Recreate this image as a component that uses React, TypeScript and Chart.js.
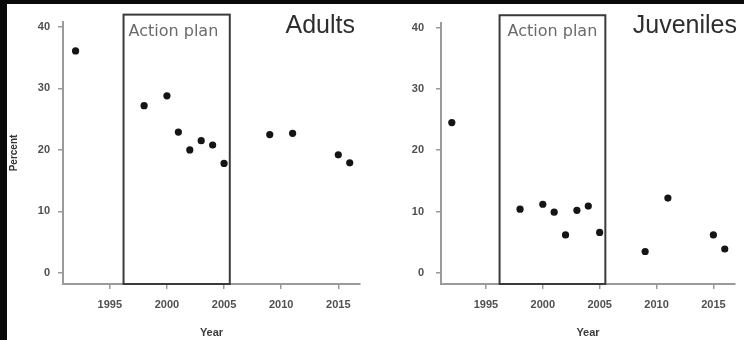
import React, { useEffect, useRef } from "react";
import { Chart, registerables } from "chart.js";

Chart.register(...registerables);

// ---- data ----
const years = [1992, 1998, 2000, 2001, 2002, 2003, 2004, 2005, 2009, 2011, 2015, 2016];
const adultPercent = [36.1, 27.2, 28.8, 22.9, 20.0, 21.5, 20.8, 17.8, 22.5, 22.7, 19.2, 17.9];
const juvenilePercent = [24.5, 10.4, 11.2, 9.9, 6.2, 10.2, 10.9, 6.6, 3.5, 12.2, 6.2, 3.9];
const yearTicks = [1995, 2000, 2005, 2010, 2015];
const percentTicks = [0, 10, 20, 30, 40];
const actionPlanYears = [1996.2, 2005.5];
const actionPlanTop = 42;
const actionPlanLabel = "Action plan";
const panelTitles = ["Adults", "Juveniles"];

type PanelCfg = {
  title: string;
  values: number[];
  left: number;
  width: number;
  yAxisWidth: number;
  padRight: number;
  xMin: number;
  xMax: number;
  yTitle: string;
  yTickPad: number;
  titleOffset: number;
  labelOffset: number;
};

const panels: PanelCfg[] = [
  {
    title: panelTitles[0],
    values: adultPercent,
    left: 7,
    width: 365,
    yAxisWidth: 56,
    padRight: 12,
    xMin: 1990.9,
    xMax: 2016.9,
    yTitle: "Percent",
    yTickPad: 8,
    titleOffset: 5,
    labelOffset: 5,
  },
  {
    title: panelTitles[1],
    values: juvenilePercent,
    left: 372,
    width: 372,
    yAxisWidth: 69,
    padRight: 9,
    xMin: 1991.05,
    xMax: 2016.9,
    yTitle: "",
    yTickPad: 12,
    titleOffset: -2,
    labelOffset: 8,
  },
];

const CANVAS_H = 336;

const decorPlugin = {
  id: "decor",
  afterDatasetsDraw(chart: any, _args: any, opts: any) {
    const { ctx, chartArea, scales } = chart;
    const x0 = scales.x.getPixelForValue(actionPlanYears[0]);
    const x1 = scales.x.getPixelForValue(actionPlanYears[1]);
    const yTop = scales.y.getPixelForValue(actionPlanTop);
    const yBot = chartArea.bottom;
    ctx.save();
    ctx.strokeStyle = "#3a3a3a";
    ctx.lineWidth = 2;
    ctx.strokeRect(x0, yTop, x1 - x0, yBot - yTop);
    ctx.fillStyle = "#6a6a6a";
    ctx.font = '16px "DejaVu Sans"';
    ctx.textBaseline = "middle";
    ctx.textAlign = "left";
    ctx.fillText(actionPlanLabel, x0 + opts.labelOffset, yTop + 17);
    ctx.fillStyle = "#2e2e2e";
    ctx.font = "25px Arial";
    ctx.textAlign = "right";
    ctx.fillText(opts.title, chartArea.right - opts.titleOffset, yTop + 11);
    ctx.restore();
  },
};

function Panel({ cfg }: { cfg: PanelCfg }) {
  const ref = useRef<HTMLCanvasElement>(null);
  useEffect(() => {
    if (!ref.current) return;
    const chart = new Chart(ref.current, {
      type: "scatter",
      data: {
        datasets: [
          {
            data: years.map((y, i) => ({ x: y, y: cfg.values[i] })),
            pointRadius: 3.6,
            pointBackgroundColor: "#151515",
            pointBorderWidth: 0,
            pointHoverRadius: 3.6,
          },
        ],
      },
      options: {
        responsive: false,
        animation: false,
        events: [],
        layout: { padding: { top: 18, right: cfg.padRight, left: 0, bottom: 0 } },
        plugins: {
          legend: { display: false },
          tooltip: { enabled: false },
          decor: { title: cfg.title, titleOffset: cfg.titleOffset, labelOffset: cfg.labelOffset },
        } as any,
        scales: {
          x: {
            type: "linear",
            min: cfg.xMin,
            max: cfg.xMax,
            afterBuildTicks: (axis: any) => {
              axis.ticks = yearTicks.map((v) => ({ value: v }));
            },
            afterFit: (axis: any) => {
              axis.height = 56;
            },
            ticks: {
              color: "#505050",
              font: { size: 11, weight: "bold", family: "Arial" },
              padding: 9,
              maxRotation: 0,
              autoSkip: false,
              callback: (v: any) => String(v),
            },
            grid: {
              display: true,
              drawOnChartArea: false,
              drawTicks: true,
              tickLength: 5,
              color: "#9a9a9a",
              lineWidth: 1.5,
            },
            border: { display: true, color: "#9a9a9a", width: 2 },
            title: {
              display: true,
              text: "Year",
              color: "#3c3c3c",
              font: { size: 11, weight: "bold", family: "Arial" },
              padding: { top: 0, bottom: 0 },
            },
          },
          y: {
            type: "linear",
            min: -1.8,
            max: 40.8,
            afterBuildTicks: (axis: any) => {
              axis.ticks = percentTicks.map((v) => ({ value: v }));
            },
            afterFit: (axis: any) => {
              axis.width = cfg.yAxisWidth;
            },
            ticks: {
              color: "#505050",
              font: { size: 11, weight: "bold", family: "Arial" },
              padding: cfg.yTickPad,
              callback: (v: any) => String(v),
            },
            grid: {
              display: true,
              drawOnChartArea: false,
              drawTicks: true,
              tickLength: 5,
              color: "#9a9a9a",
              lineWidth: 1.5,
            },
            border: { display: true, color: "#9a9a9a", width: 2 },
            title: {
              display: cfg.yTitle !== "",
              text: cfg.yTitle,
              color: "#333333",
              font: { size: 10, weight: "bold", family: "Arial" },
              padding: { top: 1, bottom: 0 },
            },
          },
        },
      },
      plugins: [decorPlugin],
    });
    return () => chart.destroy();
  }, [cfg]);
  return (
    <canvas
      ref={ref}
      width={cfg.width}
      height={CANVAS_H}
      style={{ position: "absolute", left: cfg.left, top: 4, width: cfg.width, height: CANVAS_H }}
    />
  );
}

export default function App() {
  return (
    <div
      style={{
        position: "absolute",
        left: 0,
        top: 0,
        width: 744,
        height: 340,
        background: "#0a0a0a",
        overflow: "hidden",
      }}
    >
      <div
        style={{
          position: "absolute",
          left: 7,
          top: 4,
          width: 737,
          height: 336,
          background: "#ffffff",
        }}
      />
      {panels.map((p, i) => (
        <Panel key={i} cfg={p} />
      ))}
    </div>
  );
}
